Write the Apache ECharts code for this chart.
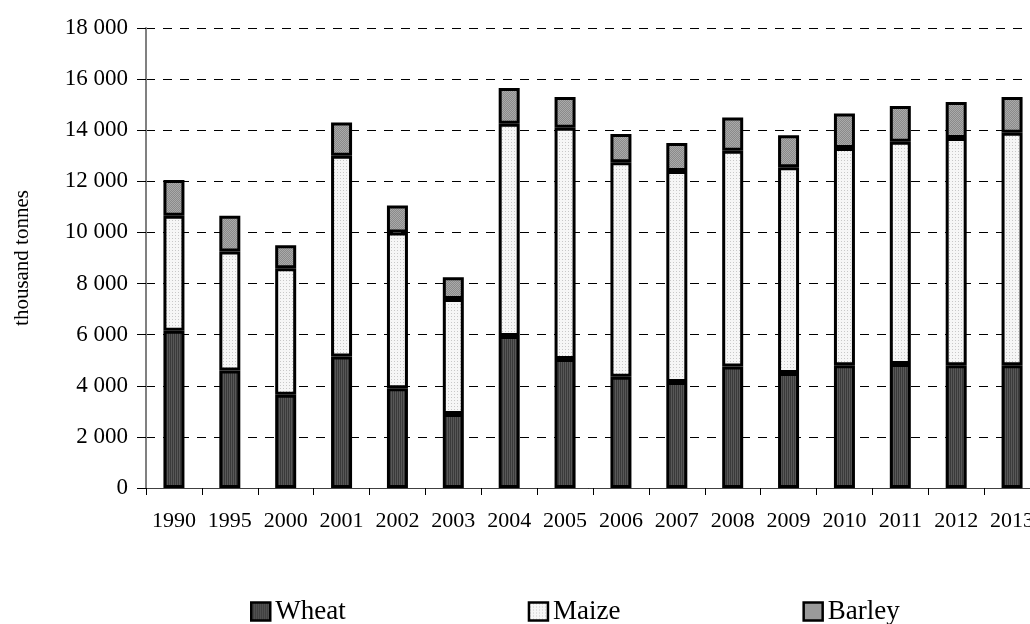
<!DOCTYPE html>
<html>
<head>
<meta charset="utf-8">
<script src="https://cdn.jsdelivr.net/npm/echarts@6/dist/echarts.min.js"></script>
<style>
html,body{margin:0;padding:0;background:#fff;}
#chart{width:1030px;height:624px;}
</style>
</head>
<body>
<div id="chart"></div>
<script>
const categories = ['1990','1995','2000','2001','2002','2003','2004','2005','2006','2007','2008','2009','2010','2011','2012','2013'];
const wheat  = [6150, 4600, 3650, 5150, 3900, 2900, 5950, 5050, 4350, 4150, 4750, 4500, 4800, 4850, 4800, 4800];
const maize  = [4500, 4650, 4950, 7850, 6100, 4500, 8300, 9050, 8400, 8250, 8450, 8050, 8500, 8700, 8900, 9100];
const barley = [1400, 1400, 900, 1300, 1050, 850, 1400, 1200, 1100, 1100, 1300, 1250, 1350, 1400, 1400, 1400];
const yTicks = [0, 2000, 4000, 6000, 8000, 10000, 12000, 14000, 16000, 18000];

function pattern(w, h, draw) {
  const c = document.createElement('canvas');
  c.width = w; c.height = h;
  const ctx = c.getContext('2d');
  draw(ctx);
  return { image: c, repeat: 'repeat' };
}
const wheatFill = pattern(2, 2, ctx => {
  ctx.fillStyle = '#3a3a3a'; ctx.fillRect(0, 0, 2, 2);
  ctx.fillStyle = '#585858'; ctx.fillRect(1, 0, 1, 2);
});
const maizeFill = pattern(3, 3, ctx => {
  ctx.fillStyle = '#f6f6f6'; ctx.fillRect(0, 0, 3, 3);
  ctx.fillStyle = '#c8c8c8'; ctx.fillRect(1, 1, 1, 1);
});
const barleyFill = pattern(2, 2, ctx => {
  ctx.fillStyle = '#8a8a8a'; ctx.fillRect(0, 0, 2, 2);
  ctx.fillStyle = '#aaaaaa'; ctx.fillRect(0, 0, 1, 1); ctx.fillRect(1, 1, 1, 1);
});

const font = 'Liberation Serif';
function fmt(v) { return String(v).replace(/\B(?=(\d{3})+(?!\d))/g, ' '); }

const chart = echarts.init(document.getElementById('chart'), null, { renderer: 'canvas' });
function barSeries(name, data, fill) {
  return {
    name: name, type: 'bar', stack: 'total', data: data,
    barWidth: 21,
    itemStyle: { color: fill, borderColor: '#000', borderWidth: 3 },
    emphasis: { disabled: true },
    animation: false
  };
}
chart.setOption({
  animation: false,
  grid: { left: 146, top: 28, right: -10, height: 460, outerBoundsMode: 'none', containLabel: false },
  legend: {
    left: 245, top: 593,
    itemWidth: 19, itemHeight: 18, itemGap: 182,
    icon: 'rect',
    itemStyle: { borderColor: '#000', borderWidth: 2.5 },
    textStyle: { fontFamily: font, fontSize: 27, color: '#000' },
    data: ['Wheat', 'Maize', 'Barley']
  },
  xAxis: {
    type: 'category', data: categories, boundaryGap: true,
    axisLine: { lineStyle: { color: '#404040', width: 1 } },
    axisTick: { show: true, length: 7, inside: false, lineStyle: { color: '#000' } },
    axisLabel: { fontFamily: font, fontSize: 22, color: '#000', margin: 22, interval: 0 }
  },
  yAxis: {
    type: 'value', min: 0, max: 18000, interval: 2000,
    name: 'thousand tonnes', nameLocation: 'middle', nameGap: 113, nameRotate: 90,
    nameTextStyle: { fontFamily: font, fontSize: 21, color: '#000' },
    axisLine: { show: true, lineStyle: { color: '#808080', width: 2 } },
    axisTick: { show: true, length: 9, lineStyle: { color: '#000' } },
    axisLabel: {
      fontFamily: font, fontSize: 23, color: '#000', margin: 18,
      formatter: v => yTicks.includes(v) ? fmt(v) : ''
    },
    splitLine: { show: true, lineStyle: { color: '#000', type: [9, 8], width: 1 } }
  },
  series: [
    barSeries('Wheat', wheat, wheatFill),
    barSeries('Maize', maize, maizeFill),
    barSeries('Barley', barley, barleyFill)
  ]
});
</script>
</body>
</html>
